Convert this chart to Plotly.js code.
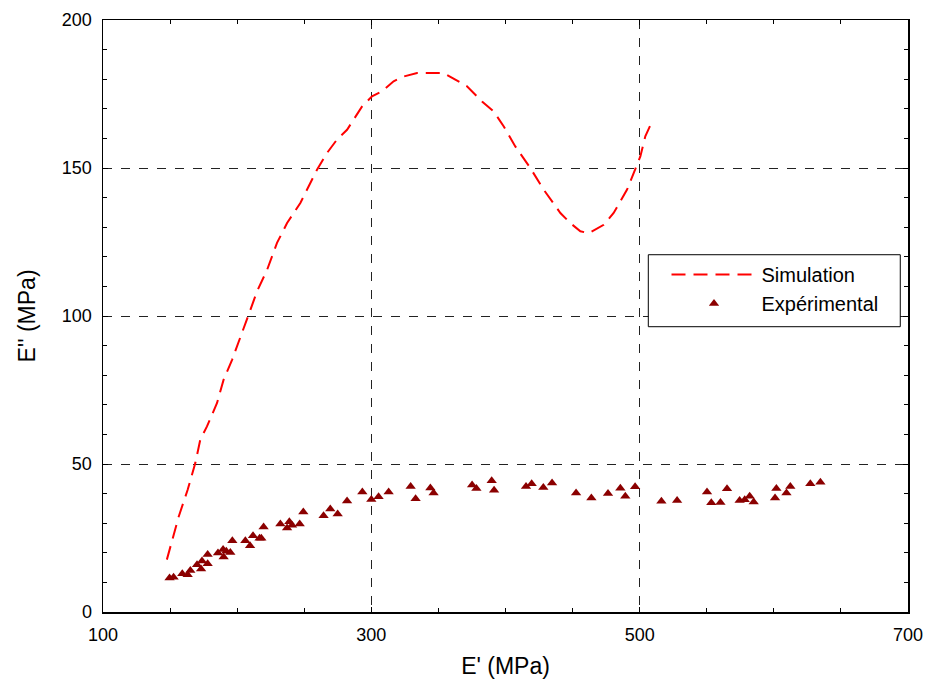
<!DOCTYPE html>
<html>
<head>
<meta charset="utf-8">
<script src="https://cdn.plot.ly/plotly-3.0.1.min.js"></script>
<style>html,body{margin:0;padding:0;background:#fff}#chart{width:929px;height:689px}</style>
</head>
<body>
<div id="chart"></div>
<script>
// Simulation curve (E', E'')
const simX = [147.6,150.2,156.4,163.1,168.8,172.5,177.5,185.0,189.9,196.2,202.3,208.5,214.8,222.3,229.7,237.2,247.1,253.3,259.5,267.0,274.4,281.9,288.1,293.1,300.5,308.0,316.6,324.1,334.1,353.9,371.3,382.5,391.2,398.6,407.3,413.5,418.5,428.4,434.7,440.9,448.3,455.8,462.0,473.2,480.6,490.6,500.5,504.2,508.7];
const simY = [17.7,22.2,32.2,41.3,50.3,58.2,62.7,70.6,78.5,85.2,93.1,100.4,108.3,115.6,124.7,131.4,138.2,143.8,149.4,155.1,159.6,162.9,167.4,170.8,174.2,175.9,179.3,180.9,182.1,182.1,177.6,172.5,169.1,164.1,157.3,153.4,150.0,142.7,138.7,134.8,131.4,128.6,128.0,130.8,134.8,142.7,153.9,160.7,165.2];
// Experimental points
const expX = [149.6,152.6,159.1,163.1,165.1,170.1,173.1,173.8,178.0,178.0,185.7,189.5,189.9,191.9,194.9,196.4,206.1,209.6,211.8,216.7,218.0,219.7,232.2,237.2,238.9,240.9,246.6,249.3,264.4,269.4,274.9,281.9,293.3,300.0,305.4,312.9,329.3,333.0,344.0,346.4,375.1,378.3,389.7,391.5,415.3,419.5,428.2,434.7,452.6,464.0,476.4,485.6,489.3,496.6,516.2,527.9,550.2,553.4,560.2,565.1,574.5,578.3,582.0,585.0,600.9,601.9,609.4,612.3,627.2,634.7];
const expY = [11.5,11.7,12.9,12.6,14.0,16.0,14.5,17.2,16.3,19.4,19.9,21.1,18.6,20.5,20.1,24.1,24.1,22.4,25.8,24.9,24.9,28.7,29.7,28.4,30.5,29.3,29.7,33.8,32.5,34.8,33.1,37.5,40.5,38.0,38.9,40.5,42.4,38.3,41.9,40.2,42.9,41.7,44.3,41.1,42.4,43.3,42.1,43.6,40.2,38.5,40.0,41.8,39.1,42.3,37.4,37.7,40.5,36.9,37.0,41.6,37.7,37.9,39.1,37.2,38.5,41.7,40.2,42.4,43.3,43.8];
const xTicks = [100,300,500,700];
const yTicks = [0,50,100,150,200];

const font = "Liberation Sans, Arial, sans-serif";
const traces = [
  {x: simX, y: simY, type: 'scatter', mode: 'lines', name: 'Simulation',
   line: {color: '#ff0000', width: 2, dash: '14px,8px'}},
  {x: expX, y: expY, type: 'scatter', mode: 'markers', name: 'Expérimental',
   marker: {symbol: 'triangle-up', size: 9, color: '#8b0000'}}
];
const axisCommon = {
  showline: true, linecolor: '#000', linewidth: 1.5, mirror: 'allticks',
  ticks: 'inside', ticklen: 5, tickcolor: '#000', tickmode: 'linear',
  showgrid: true, gridcolor: '#222', griddash: 'dash', gridwidth: 1,
  zeroline: false, tickfont: {family: font, size: 18, color: '#000'}
};
const layout = {
  width: 929, height: 689,
  margin: {l: 103, r: 21, t: 20, b: 77},
  paper_bgcolor: '#fff', plot_bgcolor: '#fff',
  font: {family: font, color: '#000'},
  showlegend: true,
  legend: {x: 0.700, y: 0.603, xanchor: 'left', yanchor: 'top',
    borderwidth: 0, bgcolor: 'rgba(0,0,0,0)', itemwidth: 85, tracegroupgap: 0,
    font: {family: font, size: 20, color: '#000'}},
  shapes: [{type: 'rect', xref: 'paper', yref: 'paper',
    x0: 0.6774, x1: 0.9904, y0: 0.4819, y1: 0.6035,
    line: {color: '#000', width: 1}, fillcolor: '#fff', layer: 'above'}],
  xaxis: Object.assign({}, axisCommon, {
    range: [100, 700], tick0: 100, dtick: 200, ticklabelstandoff: 6,
    minor: {dtick: 50, tick0: 100, ticks: 'inside', ticklen: 4, tickcolor: '#000', showgrid: false},
    title: {text: "E' (MPa)", font: {family: font, size: 23}, standoff: 14}
  }),
  yaxis: Object.assign({}, axisCommon, {
    range: [0, 200], tick0: 0, dtick: 50, ticklabelstandoff: 6,
    minor: {dtick: 10, tick0: 0, ticks: 'inside', ticklen: 4, tickcolor: '#000', showgrid: false},
    title: {text: "E'' (MPa)", font: {family: font, size: 23}, standoff: 20}
  })
};
Plotly.newPlot('chart', traces, layout, {displayModeBar: false, staticPlot: true});
</script>
</body>
</html>
